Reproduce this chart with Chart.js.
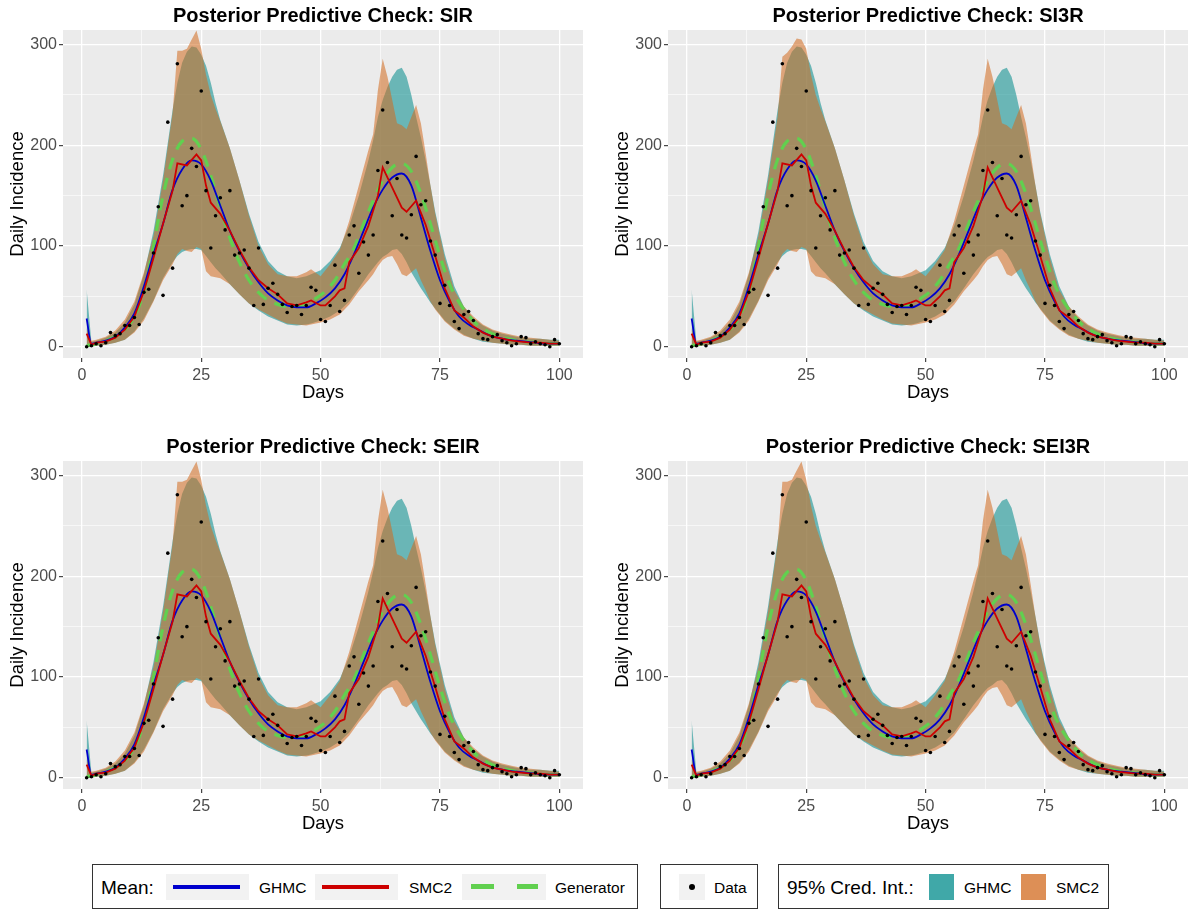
<!DOCTYPE html>
<html>
<head>
<meta charset="utf-8">
<script src="https://cdn.jsdelivr.net/npm/chart.js@4.4.1/dist/chart.umd.min.js"></script>
<style>
  body { margin: 0; background: #fff; font-family: "Liberation Sans", Arial, sans-serif; }
  #wrap { position: relative; width: 1188px; height: 910px; overflow: hidden; }
  #wrap canvas { position: absolute; }
  .box { position: absolute; top: 864px; height: 45px; border: 1.5px solid #333; box-sizing: border-box; }
  .key { position: absolute; top: 874px; height: 26px; background: #f2f2f2; }
  .txt { position: absolute; white-space: nowrap; line-height: 1; color: #000; }
  .big { font-size: 19px; top: 878px; }
  .small { font-size: 15.5px; top: 880px; }
</style>
</head>
<body>
<div id="wrap">
  <canvas id="c0" width="587" height="410" style="left:0;top:0"></canvas>
  <canvas id="c1" width="587" height="410" style="left:605px;top:0"></canvas>
  <canvas id="c2" width="587" height="410" style="left:0;top:431px"></canvas>
  <canvas id="c3" width="587" height="410" style="left:605px;top:431px"></canvas>

  <div class="box" style="left:92px;width:546px"></div>
  <div class="txt big" style="left:101px">Mean:</div>
  <div class="key" style="left:166px;width:83px"><div style="position:absolute;left:7px;top:11px;width:67px;height:3.5px;background:#0000cd"></div></div>
  <div class="txt small" style="left:259px">GHMC</div>
  <div class="key" style="left:315px;width:83px"><div style="position:absolute;left:7px;top:11px;width:67px;height:3.5px;background:#cd0000"></div></div>
  <div class="txt small" style="left:409px">SMC2</div>
  <div class="key" style="left:462px;width:84px">
    <div style="position:absolute;left:9px;top:10px;width:23px;height:5px;background:#61d04f"></div>
    <div style="position:absolute;left:55px;top:10px;width:21px;height:5px;background:#61d04f"></div>
  </div>
  <div class="txt small" style="left:555px">Generator</div>

  <div class="box" style="left:660px;width:98px"></div>
  <div class="key" style="left:679px;width:26px"><div style="position:absolute;left:10px;top:10px;width:6px;height:6px;border-radius:50%;background:#000"></div></div>
  <div class="txt small" style="left:714px">Data</div>

  <div class="box" style="left:778px;width:331px"></div>
  <div class="txt big" style="left:787px">95% Cred. Int.:</div>
  <div style="position:absolute;left:929px;top:874px;width:25px;height:26px;background:rgba(0,139,139,0.75)"></div>
  <div class="txt small" style="left:964px">GHMC</div>
  <div style="position:absolute;left:1021px;top:874px;width:25px;height:26px;background:rgba(210,105,30,0.75)"></div>
  <div class="txt small" style="left:1056px">SMC2</div>
</div>
<script>
// observed daily incidence (days 1..100)
const days = Array.from({length: 100}, (_, i) => i + 1);
const observed = [0, 1, 3, 1, 4, 14, 11, 13, 21, 21, 29, 22, 54, 57, 93, 139, 51, 223, 78, 281,
  140, 150, 197, 179, 254, 155, 98, 130, 148, 116, 155, 91, 93, 96, 78, 41, 98, 42, 58, 63,
  52, 42, 34, 40, 41, 32, 41, 59, 56, 27, 25, 41, 81, 35, 46, 111, 120, 73, 104, 91,
  111, 175, 235, 183, 130, 167, 111, 108, 131, 189, 141, 145, 105, 91, 43, 61, 41, 25, 18, 32,
  35, 26, 13, 8, 7, 10, 12, 6, 4, 1, 3, 10, 9, 3, 5, 3, 2, 0, 7, 3];

// generator mean
const genDays = [1, 3, 5, 7, 9, 11, 13, 15, 17, 19, 21, 23, 25, 27, 29, 31, 33, 35, 37, 39, 41, 43, 45, 47, 49,
  51, 53, 55, 57, 59, 61, 63, 65, 67, 69, 71, 73, 75, 77, 79, 81, 83, 85, 87, 89, 91, 93, 95, 97, 100];
const genMean = [1, 3, 6, 10, 17, 30, 55, 100, 150, 186, 204, 207, 196, 170, 138, 108, 84, 66, 54, 46, 42, 40, 40, 43, 48,
  55, 66, 82, 98, 122, 145, 165, 178, 182, 174, 152, 122, 90, 62, 44, 31, 21, 15, 11, 8, 6, 5, 4, 3, 3];

// GHMC posterior mean
const ghmcDays = [1, 2, 3, 5, 7, 9, 11, 13, 15, 17, 19, 21, 23, 25, 27, 29, 31, 33, 35, 37, 39, 41, 43, 45, 47, 49,
  51, 53, 55, 57, 59, 61, 63, 65, 67, 69, 71, 73, 75, 77, 79, 81, 83, 85, 87, 89, 91, 93, 95, 97, 99, 100];
const ghmcMean = [28, 3, 4, 6, 10, 19, 33, 60, 92, 122, 156, 176, 185, 181, 165, 140, 115, 95, 78, 64, 53, 46, 41, 39, 39, 43,
  49, 58, 72, 92, 115, 138, 156, 168, 172, 160, 128, 95, 66, 45, 30, 22, 17, 12, 9, 7, 6, 5, 4, 3, 3, 3];

// SMC2 posterior mean
const smcDays = [1, 2, 3, 5, 7, 9, 11, 13, 15, 17, 19, 20, 22, 24, 25, 26, 27, 29, 31, 33, 35, 37, 39, 41, 43, 45, 47, 48,
  50, 51, 53, 54, 55, 56, 58, 60, 62, 63, 65, 67, 68, 70, 72, 74, 76, 78, 80, 82, 84, 86, 88, 90, 92, 94, 96, 98, 100];
const smcMean = [13, 2, 4, 5, 9, 17, 30, 55, 88, 122, 155, 182, 180, 191, 185, 160, 143, 132, 115, 96, 79, 66, 58, 52, 43, 41, 44, 46,
  41, 41, 50, 56, 58, 84, 98, 120, 150, 178, 158, 138, 134, 145, 121, 90, 58, 36, 29, 20, 14, 10, 8, 6, 5, 4, 4, 3, 3];

// 95% credible bands
const bandDays = [1, 2, 3, 5, 7, 9, 11, 13, 15, 17, 19, 20, 21, 22, 23, 24, 25, 26, 27, 28, 29, 31, 33, 35, 37, 39, 41, 43, 45,
  47, 48, 50, 52, 54, 56, 58, 60, 61, 62, 63, 64, 65, 66, 67, 68, 69, 70, 71, 72, 73, 74, 76, 78, 80, 82, 84, 86, 88, 90,
  92, 94, 96, 98, 100];
const ghmcUpper = [57, 5, 6, 9, 14, 24, 42, 72, 115, 170, 235, 262, 282, 293, 298, 297, 290, 279, 262, 242, 225, 197, 165, 132, 104, 85, 75, 70, 68,
  70, 72, 76, 85, 98, 120, 150, 185, 205, 228, 245, 258, 268, 275, 277, 268, 250, 228, 208, 185, 160, 134, 92, 60, 40, 28, 21, 16, 13, 11,
  9, 8, 8, 7, 7];
const ghmcLower = [0, 0, 1, 2, 4, 7, 15, 28, 46, 68, 84, 90, 94, 96, 97, 97, 96, 90, 84, 78, 73, 62, 52, 43, 36, 30, 26, 22, 21,
  22, 23, 26, 30, 36, 45, 58, 72, 78, 84, 89, 92, 96, 97, 92, 84, 74, 66, 58, 51, 44, 38, 26, 18, 12, 8, 5, 4, 3, 2,
  2, 1, 1, 1, 1];
const smcUpper = [18, 6, 7, 10, 16, 27, 45, 74, 110, 165, 232, 294, 294, 296, 305, 314, 296, 270, 250, 236, 224, 197, 165, 130, 100, 82, 72, 70, 70,
  74, 77, 70, 82, 96, 125, 160, 195, 211, 255, 286, 268, 245, 222, 220, 216, 228, 240, 222, 192, 160, 132, 88, 56, 40, 30, 22, 17, 14, 12,
  10, 9, 8, 7, 6];
// SI3R panel: lower SMC2 peak on the first wave
const smcUpperSI3R = [18, 6, 7, 10, 16, 27, 45, 74, 110, 165, 228, 288, 292, 298, 306, 305, 296, 270, 250, 236, 224, 197, 165, 130, 100, 82, 72, 70, 70,
  74, 77, 70, 82, 96, 125, 160, 195, 211, 255, 286, 268, 245, 222, 220, 216, 228, 240, 222, 192, 160, 132, 88, 56, 40, 30, 22, 17, 14, 12,
  10, 9, 8, 7, 6];
const smcLower = [0, 0, 1, 2, 4, 7, 14, 26, 45, 66, 82, 92, 97, 95, 94, 99, 97, 75, 70, 69, 68, 62, 52, 43, 37, 32, 27, 23, 22,
  21, 22, 24, 27, 32, 42, 55, 66, 72, 80, 86, 89, 90, 82, 72, 70, 74, 78, 66, 56, 45, 37, 25, 17, 11, 8, 6, 4, 3, 2,
  2, 1, 1, 1, 1];

const panelTitles = ['Posterior Predictive Check: SIR', 'Posterior Predictive Check: SI3R',
  'Posterior Predictive Check: SEIR', 'Posterior Predictive Check: SEI3R'];
const panelSmcUpper = [smcUpper, smcUpperSI3R, smcUpper, smcUpper];

const xy = (xs, ys) => xs.map((x, i) => ({x: x, y: ys[i]}));

const panelBg = {
  id: 'panelBg',
  beforeDraw(chart) {
    const {ctx, chartArea: a} = chart;
    ctx.save();
    ctx.fillStyle = '#ebebeb';
    ctx.fillRect(a.left, a.top, a.right - a.left, a.bottom - a.top);
    ctx.restore();
  }
};

const FONT = '"Liberation Sans", Arial, sans-serif';

function makePanel(canvasId, title, upperSmc) {
  const band = (data, fill, color, order) => ({
    data: data, fill: fill, backgroundColor: color, borderWidth: 0, pointRadius: 0, order: order
  });
  new Chart(document.getElementById(canvasId), {
    type: 'line',
    data: {
      datasets: [
        {data: xy(days, observed), showLine: false, pointRadius: 1.8, pointBackgroundColor: '#000',
          pointBorderWidth: 0, order: 0},
        {data: xy(smcDays, smcMean), borderColor: '#cd0000', borderWidth: 1.8, pointRadius: 0, tension: 0, order: 1},
        {data: xy(ghmcDays, ghmcMean), borderColor: '#0000cd', borderWidth: 1.8, pointRadius: 0,
          cubicInterpolationMode: 'monotone', order: 2},
        {data: xy(genDays, genMean), borderColor: '#61d04f', borderWidth: 3.2, borderDash: [12, 9], pointRadius: 0,
          cubicInterpolationMode: 'monotone', order: 3},
        band(xy(bandDays, upperSmc), '+1', 'rgba(210,105,30,0.55)', 4),
        band(xy(bandDays, smcLower), false, 'transparent', 5),
        band(xy(bandDays, ghmcUpper), '+1', 'rgba(0,139,139,0.55)', 6),
        band(xy(bandDays, ghmcLower), false, 'transparent', 7)
      ]
    },
    options: {
      responsive: false,
      animation: false,
      devicePixelRatio: 1,
      events: [],
      layout: {padding: 0},
      plugins: {
        legend: {display: false},
        tooltip: {enabled: false},
        title: {
          display: true, text: title, fullSize: false, color: '#000',
          font: {family: FONT, size: 20, weight: 'bold'}, padding: {top: 4, bottom: 2}
        }
      },
      scales: {
        x: {
          type: 'linear', min: -3.95, max: 104.95,
          afterFit: s => { s.height = 52; },
          border: {display: false},
          grid: {
            color: '#fff', tickLength: 4,
            lineWidth: c => (c.tick && c.tick.value % 25 === 0 ? 1.3 : 0.6),
            tickColor: c => (c.tick && c.tick.value % 25 === 0 ? '#333' : 'rgba(0,0,0,0)'),
            tickWidth: 1.1
          },
          ticks: {
            stepSize: 12.5, includeBounds: false, autoSkip: false, maxRotation: 0, padding: 4,
            color: '#4d4d4d', font: {family: FONT, size: 16},
            callback: v => (v % 25 === 0 ? String(v) : '')
          },
          title: {display: true, text: 'Days', color: '#000', font: {family: FONT, size: 18.5},
            padding: {top: 0, bottom: 6}}
        },
        y: {
          min: -11.2, max: 314.5,
          afterFit: s => { s.width = 63; },
          border: {display: false},
          grid: {
            color: '#fff', tickLength: 4,
            lineWidth: c => (c.tick && c.tick.value % 100 === 0 ? 1.3 : 0.6),
            tickColor: c => (c.tick && c.tick.value % 100 === 0 ? '#333' : 'rgba(0,0,0,0)'),
            tickWidth: 1.1
          },
          ticks: {
            stepSize: 50, includeBounds: false, padding: 2,
            color: '#4d4d4d', font: {family: FONT, size: 16},
            callback: v => (v % 100 === 0 ? String(v) : '')
          },
          title: {display: true, text: 'Daily Incidence', color: '#000', font: {family: FONT, size: 18.5},
            padding: {top: 7, bottom: 0}}
        }
      }
    },
    plugins: [panelBg]
  });
}

panelTitles.forEach((t, i) => makePanel('c' + i, t, panelSmcUpper[i]));
</script>
</body>
</html>
